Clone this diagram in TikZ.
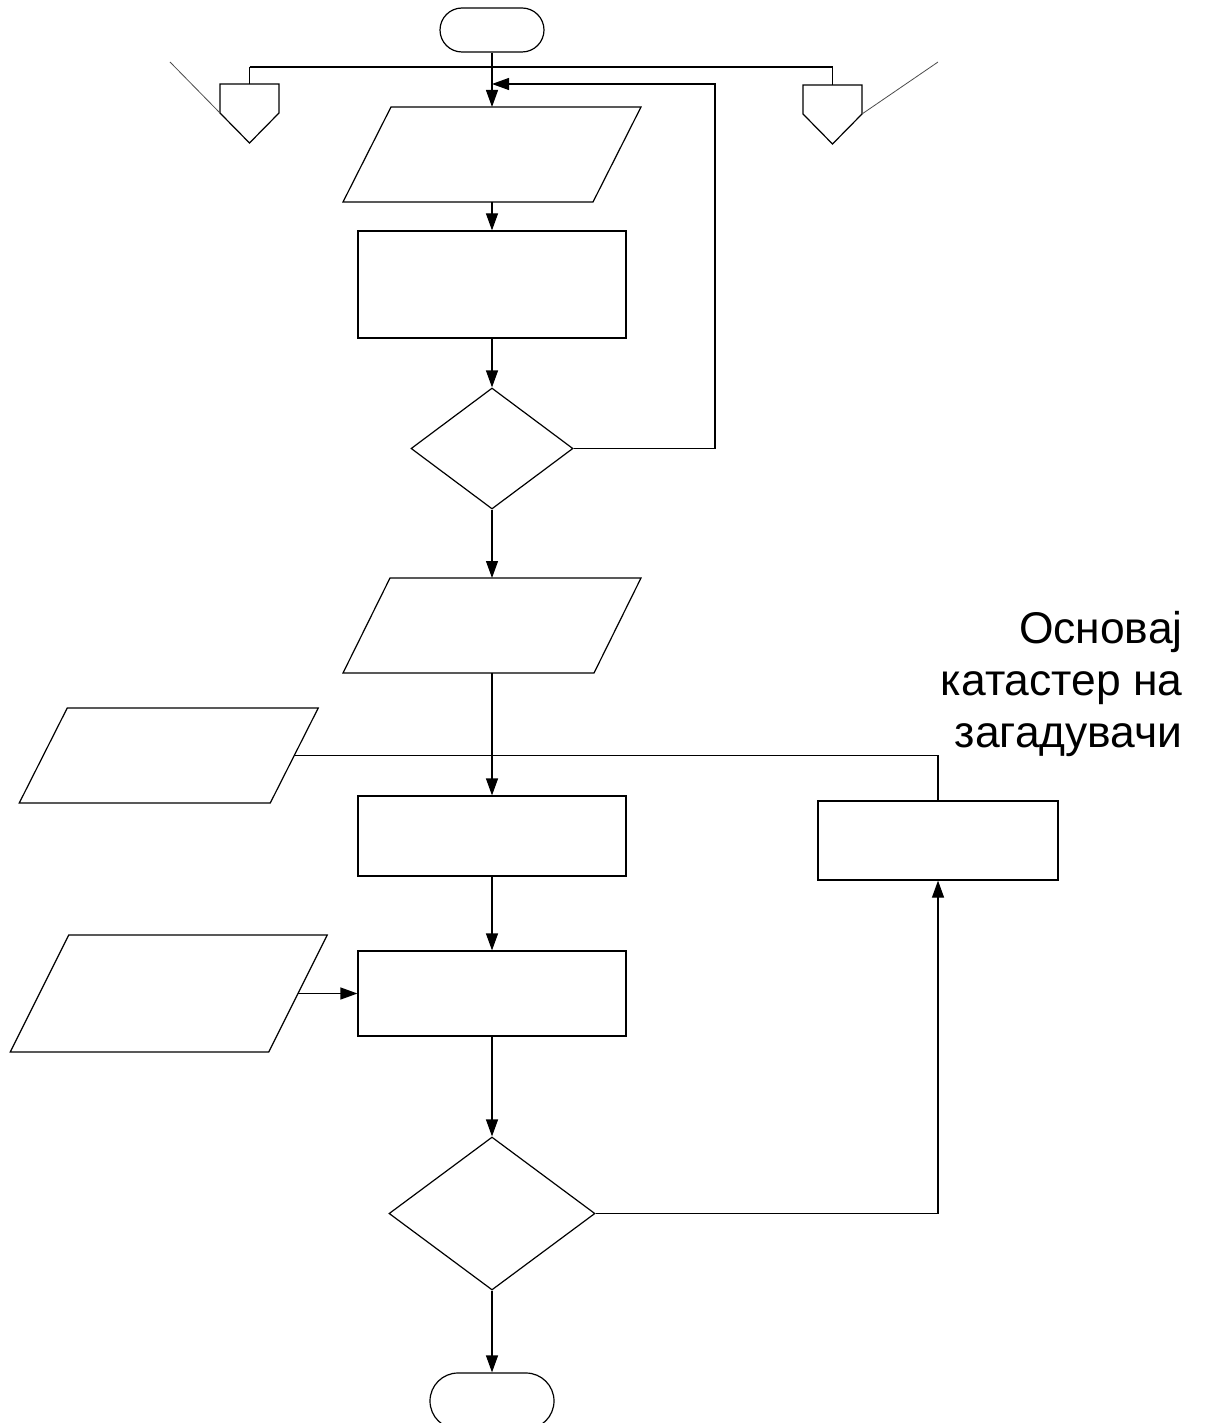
\documentclass[tikz,border=0pt]{standalone}
\usepackage{fontspec}
\setmainfont{Liberation Sans}
\usetikzlibrary{arrows.meta,shapes.geometric}

% draws a parallelogram: name, centre x, centre y, edge length, height, half slant
\newcommand{\ioshape}[6]{%
  \draw[shapeline] (#2-#4/2+#6,#3-#5/2) -- (#2+#4/2+#6,#3-#5/2)
    -- (#2+#4/2-#6,#3+#5/2) -- (#2-#4/2-#6,#3+#5/2) -- cycle;
  \coordinate (#1-n) at (#2,#3-#5/2);
  \coordinate (#1-s) at (#2,#3+#5/2);
  \coordinate (#1-e) at (#2+#4/2,#3);
}
% draws an off-page connector: name, centre x, top y, width, side height, point y
\newcommand{\offpage}[6]{%
  \draw[shapeline] (#2-#4/2,#3) -- (#2+#4/2,#3) -- (#2+#4/2,#3+#5)
    -- (#2,#6) -- (#2-#4/2,#3+#5) -- cycle;
  \coordinate (#1-n) at (#2,#3);
  \coordinate (#1-w) at (#2-#4/2,#3+#5);
  \coordinate (#1-e) at (#2+#4/2,#3+#5);
}

\begin{document}
\begin{tikzpicture}[x=0.5pt,y=-0.5pt,
  shapeline/.style={draw=black,line width=0.6pt},
  procbox/.style={shapeline,rectangle,inner sep=0pt},
  termbox/.style={shapeline,rectangle,inner sep=0pt},
  decision/.style={shapeline,diamond,inner sep=0pt,aspect=1},
  flow/.style={line width=0.6pt,-{Triangle[length=8.5pt,width=6pt]}},
  link/.style={line width=0.6pt},
  guide/.style={draw=black!70,line width=0.4pt},
  label/.style={font=\fontsize{22.2}{26}\selectfont,inner sep=0pt,anchor=base east}]
\useasboundingbox (0,0) rectangle (1206,1423);

% terminators
\node[termbox,minimum width=52pt,minimum height=22pt,rounded corners=11pt] (start) at (492,30) {};
\node[termbox,minimum width=62pt,minimum height=28pt,rounded corners=14pt] (stop) at (492,1401) {};

% off-page connectors
\offpage{cl}{249.5}{84}{59}{29}{143}
\offpage{cr}{832.5}{85}{59}{29}{144}
\coordinate (gl) at (170,62);
\coordinate (gr) at (938,62);
\draw[guide] (gl) -- (cl-w);
\draw[guide] (cr-e) -- (gr);

% input / output shapes
\ioshape{pa}{492}{154.5}{250}{95}{24}
\ioshape{pb}{492}{625.5}{251}{95}{23.5}
\ioshape{pc}{168.75}{755.5}{251}{95}{24}
\ioshape{pd}{168.75}{993.5}{258.5}{117}{29.25}

% process boxes
\node[procbox,minimum width=134pt,minimum height=53.5pt] (ra) at (492,284.5) {};
\node[procbox,minimum width=134pt,minimum height=40pt] (rb) at (492,836) {};
\node[procbox,minimum width=120pt,minimum height=39.5pt] (rc) at (938,840.5) {};
\node[procbox,minimum width=134pt,minimum height=42.5pt] (rd) at (492,993.5) {};

% decisions
\node[decision,minimum width=81pt,minimum height=60.5pt] (da) at (492,448.5) {};
\node[decision,minimum width=103pt,minimum height=76.5pt] (db) at (492,1213.5) {};

% connector bus to the off-page connectors
\coordinate (busl) at (249.5,67);
\coordinate (busr) at (832.5,67);
\draw[link] (busl) -- (busr);
\draw[link] (busl) -- (cl-n);
\draw[link] (busr) -- (cr-n);

% main flow
\draw[flow] (start.south) -- (pa-n);
\draw[flow] (pa-s) -- (ra.north);
\draw[flow] (ra.south) -- (da.north);
\coordinate (loopin) at (492,84);
\coordinate (loopc) at (715,448.5);
\draw[flow] (da.east) -- (loopc) |- (loopin);
\draw[flow] (da.south) -- (pb-n);
\draw[flow] (pb-s) -- (rb.north);
\coordinate (side) at (938,755.5);
\draw[link] (pc-e) -- (side) -- (rc.north);
\draw[flow] (rb.south) -- (rd.north);
\draw[flow] (pd-e) -- (rd.west);
\draw[flow] (rd.south) -- (db.north);
\draw[flow] (db.south) -- (stop.north);
\draw[flow] (db.east) -| (rc.south);

% caption
\node[label] (t1) at (1183,643) {Основај};
\node[label] (t2) at (1183,695) {катастер на};
\node[label] (t3) at (1183,747) {загадувачи};
\end{tikzpicture}
\end{document}
